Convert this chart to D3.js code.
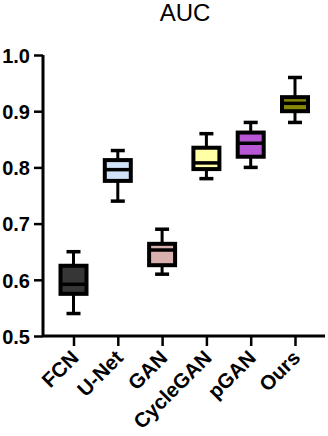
<!DOCTYPE html>
<html><head><meta charset="utf-8">
<script src="https://cdn.jsdelivr.net/npm/d3@7"></script>
<style>html,body{margin:0;padding:0;background:#fff;}svg{display:block;}</style>
</head><body>
<script>
const categories = ["FCN","U-Net","GAN","CycleGAN","pGAN","Ours"];
const whiskerLow  = [0.54, 0.74, 0.61, 0.78, 0.80, 0.88];
const q1          = [0.575, 0.776, 0.626, 0.797, 0.819, 0.900];
const median      = [0.592, 0.796, 0.653, 0.808, 0.843, 0.914];
const q3          = [0.625, 0.813, 0.664, 0.835, 0.862, 0.925];
const whiskerHigh = [0.65, 0.83, 0.69, 0.86, 0.88, 0.96];
const colors = ["#363636","#cfe2f7","#d8b0ae","#ffffa6","#b757d6","#87870a"];
const yTicks = [0.5,0.6,0.7,0.8,0.9,1.0];

const W=328,H=436;
const svg=d3.select("body").append("svg").attr("width",W).attr("height",H);
const y=d3.scaleLinear().domain([0.5,1.0]).range([336,55]);
const x=d3.scalePoint().domain(categories).range([73.5,295]);
const FONT="Liberation Sans, Arial, sans-serif";

svg.append("text").attr("x",185).attr("y",21).attr("text-anchor","middle")
  .attr("font-family",FONT).attr("font-size",24).text("AUC");

const yAxis=svg.append("g").attr("transform","translate(43,0)")
  .call(d3.axisLeft(y).tickValues(yTicks).tickFormat(d3.format(".1f")).tickSize(9).tickPadding(4));
const xAxis=svg.append("g").attr("transform","translate(0,336)")
  .call(d3.axisBottom(x).tickSize(10).tickSizeOuter(0));
xAxis.select(".domain").attr("d","M43,0H325");
yAxis.select(".domain").attr("d","M0,55V336");
svg.selectAll(".domain").attr("stroke","#000").attr("stroke-width",3);
svg.selectAll(".tick line").attr("stroke","#000").attr("stroke-width",2.5);
yAxis.selectAll("text").attr("font-family",FONT).attr("font-weight","bold").attr("font-size",20).attr("fill","#000").attr("dy","0.36em");
xAxis.selectAll("text").attr("font-family",FONT).attr("font-weight","bold").attr("font-size",20.5).attr("fill","#000")
  .attr("text-anchor","end").attr("y",0).attr("dy",0)
  .attr("transform","translate(6,23) rotate(-45)");

const data=categories.map((c,i)=>({c,lo:whiskerLow[i],q1:q1[i],med:median[i],q3:q3[i],hi:whiskerHigh[i],col:colors[i]}));
const bw=26, cw=14;
const g=svg.append("g").selectAll("g").data(data).join("g").attr("transform",d=>`translate(${x(d.c)},0)`);
g.append("line").attr("x1",0).attr("x2",0).attr("y1",d=>y(d.hi)).attr("y2",d=>y(d.q3)).attr("stroke","#000").attr("stroke-width",3);
g.append("line").attr("x1",0).attr("x2",0).attr("y1",d=>y(d.q1)).attr("y2",d=>y(d.lo)).attr("stroke","#000").attr("stroke-width",3);
g.append("line").attr("x1",-cw/2).attr("x2",cw/2).attr("y1",d=>y(d.hi)).attr("y2",d=>y(d.hi)).attr("stroke","#000").attr("stroke-width",3.5);
g.append("line").attr("x1",-cw/2).attr("x2",cw/2).attr("y1",d=>y(d.lo)).attr("y2",d=>y(d.lo)).attr("stroke","#000").attr("stroke-width",3.5);
g.append("rect").attr("x",-bw/2).attr("width",bw).attr("y",d=>y(d.q3)).attr("height",d=>y(d.q1)-y(d.q3))
  .attr("fill",d=>d.col).attr("stroke","#000").attr("stroke-width",4);
g.append("line").attr("x1",-bw/2).attr("x2",bw/2).attr("y1",d=>y(d.med)).attr("y2",d=>y(d.med)).attr("stroke","#000").attr("stroke-width",3.5);
</script>
</body></html>
